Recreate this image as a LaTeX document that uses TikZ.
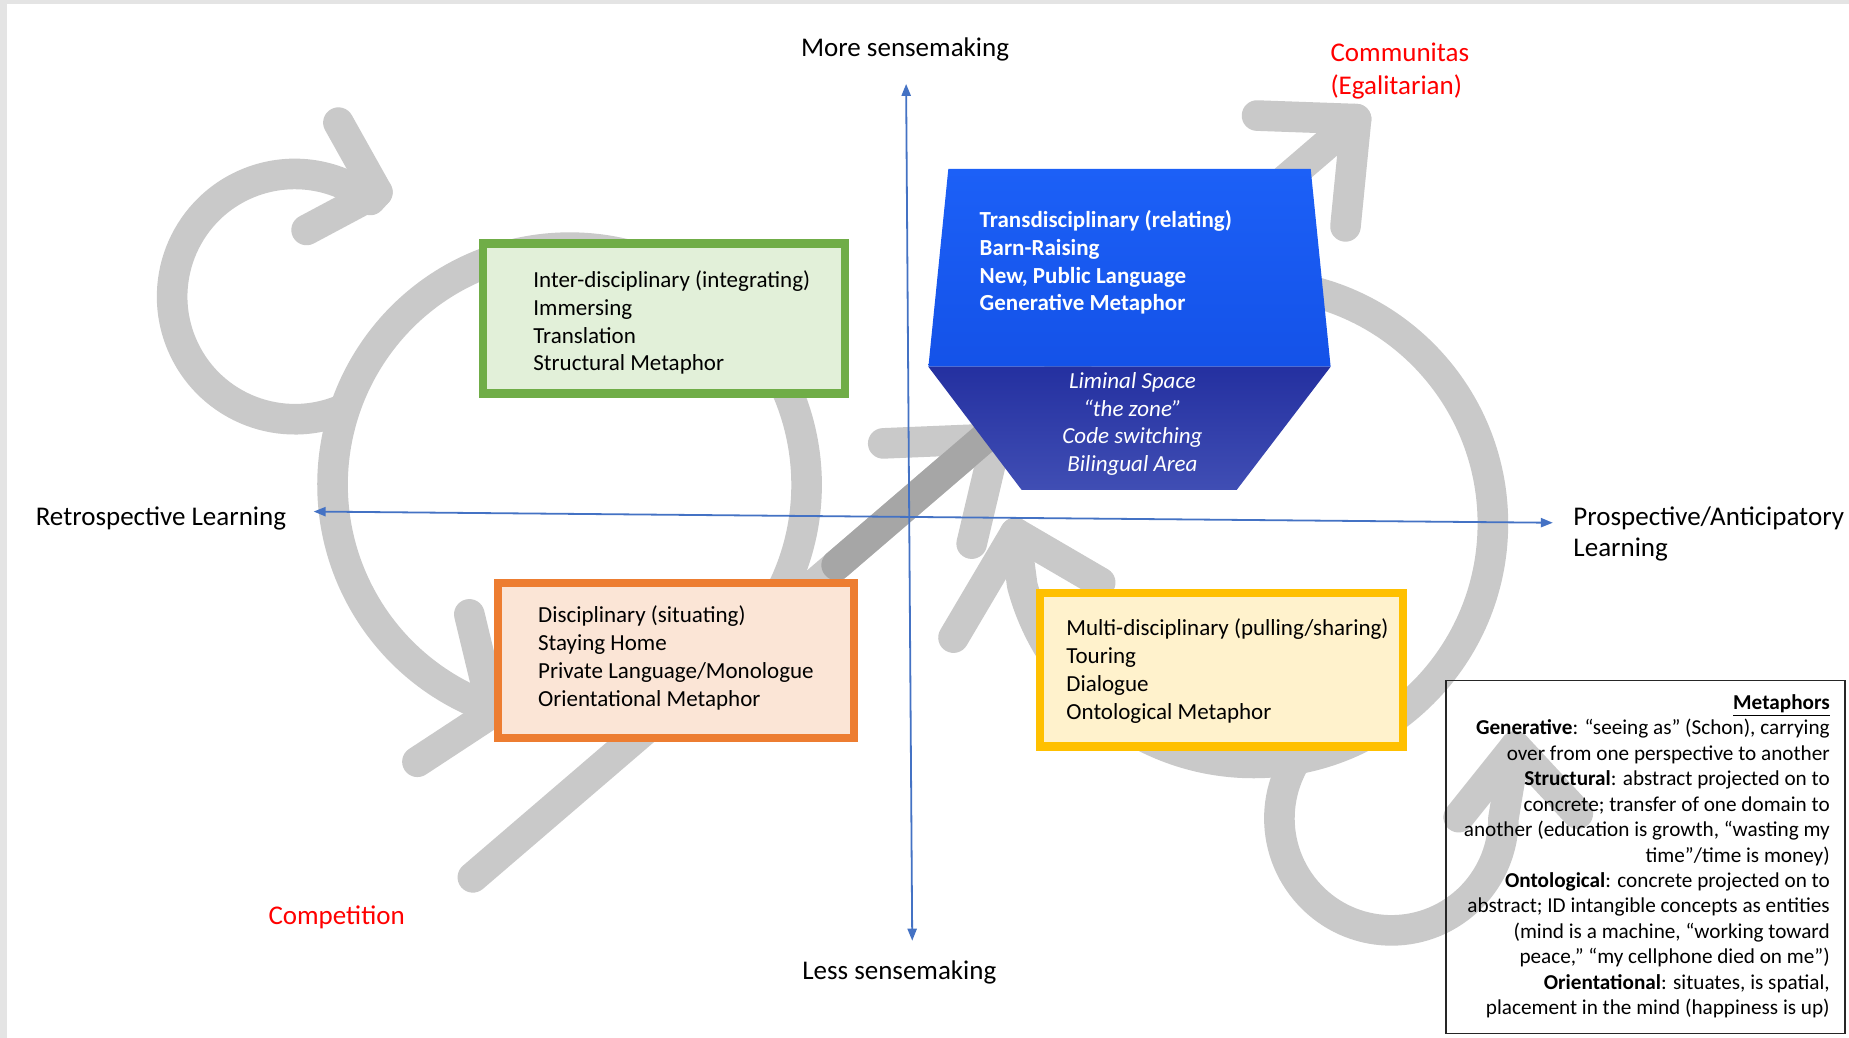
\documentclass[tikz,border=0pt]{standalone}
\usepackage{fontspec}
\setmainfont{Carlito}
\usetikzlibrary{arrows.meta}
\definecolor{frameg}{HTML}{E4E4E4}
\definecolor{arrowg}{HTML}{C9C9C9}
\definecolor{arrowd}{HTML}{A6A6A6}
\definecolor{axisblue}{HTML}{4472C4}
\definecolor{gfill}{HTML}{E2F0D9}
\definecolor{gline}{HTML}{70AD47}
\definecolor{ofill}{HTML}{FBE5D6}
\definecolor{oline}{HTML}{ED7D31}
\definecolor{yfill}{HTML}{FFF2CC}
\definecolor{yline}{HTML}{FFC000}
\definecolor{redlab}{HTML}{FF0000}
\definecolor{bluetopA}{RGB}{28,96,247}
\definecolor{bluetopB}{RGB}{20,82,232}
\definecolor{bluebotA}{RGB}{36,48,160}
\definecolor{bluebotB}{RGB}{64,78,180}
\def\uu{0.5896pt}
\begin{document}
\begin{tikzpicture}[x=0.5896pt, y=0.5896pt,
  spiral/.style={draw=arrowg, line width=15.3pt, line cap=round, line join=round},
  spiraldark/.style={spiral, draw=arrowd},
  axis/.style={draw=axisblue, line width=0.9pt, {Triangle[length=6pt,width=4.6pt]}-{Triangle[length=6pt,width=4.6pt]}},
  quadbox/.style={line width=4.13pt},
  boxtext/.style={anchor=base west, inner sep=0pt, font=\fontsize{11.5pt}{14pt}\selectfont},
  bluebold/.style={boxtext, text=white, font=\fontsize{11.5pt}{14pt}\selectfont\bfseries},
  blueital/.style={anchor=base, inner sep=0pt, text=white, font=\fontsize{11.5pt}{14pt}\selectfont\itshape},
  axislab/.style={anchor=base west, inner sep=0pt, font=\fontsize{13.5pt}{16.5pt}\selectfont},
  redtext/.style={axislab, text=redlab},
  metatext/.style={anchor=base east, inner sep=0pt, font=\fontsize{10.6pt}{12.7pt}\selectfont}
]
% background
\fill[frameg] (0,0) rectangle (1568,-880);
\fill[white] (6,-3.5) rectangle (1568,-880);
\useasboundingbox (0,0) rectangle (1568,-880);

% ---- gray spiral arrows ----
% upper-left loop
\draw[spiral] (292.3,-346.5) arc[start angle=-66, end angle=-308, radius=104*\uu] -- (320,-163);
\draw[spiral] (287,-104) -- (320,-163) -- (260,-195);
% big left loop
\draw[spiral] (647.65,-526.29) arc[start angle=-35, end angle=250, radius=201*\uu] -- (418,-604);
\draw[spiral] (398,-521) -- (418,-604) -- (354,-646);
% diagonal arrows
\draw[spiral] (401,-744) -- (845,-363);
\draw[spiral] (749,-376) -- (845,-372) -- (824,-461);
\draw[spiral] (709.5,-479.2) -- (1150,-101);
\draw[spiral] (1066,-98) -- (1150,-101) -- (1141,-192);
\draw[spiraldark] (709.5,-479.2) -- (845,-362.9);
% right loop
\draw[spiral] (1063,-241) arc[start angle=90, end angle=-165, radius=203*\uu] -- (861,-452);
\draw[spiral] (808.6,-540.7) -- (861,-452) -- (933,-494);
% lower-right loop
\draw[spiral] (1118.9,-621.2) arc[start angle=130, end angle=360, radius=95*\uu] -- (1285,-633);
\draw[spiral] (1237,-693) -- (1285,-633) -- (1338,-690);

% ---- axes ----
\coordinate (vtop) at (768.4,-71.2);
\coordinate (vbot) at (773.6,-797.7);
\coordinate (hleft) at (266,-433.8);
\coordinate (hright) at (1316.8,-443.3);
\draw[axis] (vbot) -- (vtop);
\draw[axis] (hleft) -- (hright);

% ---- quadrant boxes ----
\draw[quadbox, draw=gline, fill=gfill] (409.7,-206.4) rectangle (716.5,-333.7);
\draw[quadbox, draw=oline, fill=ofill] (422.5,-494.5) rectangle (724.4,-626);
\draw[quadbox, draw=yline, fill=yfill] (882.2,-503) rectangle (1189.8,-633);

% ---- blue block ----
\shade[top color=bluetopA, bottom color=bluetopB] (804.2,-143.3) -- (1111.5,-143.3) -- (1128.4,-311) -- (787.3,-311) -- cycle;
\shade[top color=bluebotA, bottom color=bluebotB] (787.3,-311) -- (1128.4,-311) -- (1048.7,-415.5) -- (866.4,-415.5) -- cycle;

% ---- texts ----
\node[boxtext] (g1) at (452,-243.7) {Inter-disciplinary (integrating)};
\node[boxtext] (g2) at (452,-267.3) {Immersing};
\node[boxtext] (g3) at (452,-290.9) {Translation};
\node[boxtext] (g4) at (452,-314.5) {Structural Metaphor};

\node[boxtext] (o1) at (456,-528) {Disciplinary (situating)};
\node[boxtext] (o2) at (456,-551.6) {Staying Home};
\node[boxtext] (o3) at (456,-575.2) {Private Language/Monologue};
\node[boxtext] (o4) at (456,-598.8) {Orientational Metaphor};

\node[boxtext] (y1) at (904,-539) {Multi-disciplinary (pulling/sharing)};
\node[boxtext] (y2) at (904,-562.7) {Touring};
\node[boxtext] (y3) at (904,-586.4) {Dialogue};
\node[boxtext] (y4) at (904,-610.1) {Ontological Metaphor};

\node[bluebold] (t1) at (830.5,-192.8) {Transdisciplinary (relating)};
\node[bluebold] (t2) at (830.5,-216.4) {Barn-Raising};
\node[bluebold] (t3) at (830.5,-240) {New, Public Language};
\node[bluebold] (t4) at (830.5,-263.7) {Generative Metaphor};

\node[blueital] (l1) at (960.4,-329.3) {Liminal Space};
\node[blueital] (l2) at (960.4,-352.9) {“the zone”};
\node[blueital] (l3) at (960.4,-376.5) {Code switching};
\node[blueital] (l4) at (960.4,-400.1) {Bilingual Area};

\node[axislab] (more) at (679,-48) {More sensemaking};
\node[axislab] (less) at (680,-830.6) {Less sensemaking};
\node[axislab] (retro) at (30,-445.5) {Retrospective Learning};
\node[axislab] (prosp1) at (1334,-445.5) {Prospective/Anticipatory};
\node[axislab] (prosp2) at (1334,-472) {Learning};
\node[redtext] (comm1) at (1128,-52.5) {Communitas};
\node[redtext] (comm2) at (1128,-80.5) {(Egalitarian)};
\node[redtext] (compet) at (227.4,-784) {Competition};

% ---- metaphors legend ----
\draw[line width=0.85pt, draw=black!85] (1226.2,-577.2) rectangle (1564.6,-876.3);
\node[metatext] (m1) at (1552,-601.5) {\underline{\textbf{Metaphors}}};
\node[metatext] (m2) at (1552,-623.1) {\textbf{Generative}: “seeing as” (Schon), carrying};
\node[metatext] (m3) at (1552,-644.7) {over from one perspective to another};
\node[metatext] (m4) at (1552,-666.2) {\textbf{Structural}: abstract projected on to};
\node[metatext] (m5) at (1552,-687.8) {concrete; transfer of one domain to};
\node[metatext] (m6) at (1552,-709.4) {another (education is growth, “wasting my};
\node[metatext] (m7) at (1552,-731) {time”/time is money)};
\node[metatext] (m8) at (1552,-752.6) {\textbf{Ontological}: concrete projected on to};
\node[metatext] (m9) at (1552,-774.1) {abstract; ID intangible concepts as entities};
\node[metatext] (m10) at (1552,-795.7) {(mind is a machine, “working toward};
\node[metatext] (m11) at (1552,-817.3) {peace,” “my cellphone died on me”)};
\node[metatext] (m12) at (1552,-838.9) {\textbf{Orientational}: situates, is spatial,};
\node[metatext] (m13) at (1552,-860.5) {placement in the mind (happiness is up)};
\end{tikzpicture}
\end{document}
